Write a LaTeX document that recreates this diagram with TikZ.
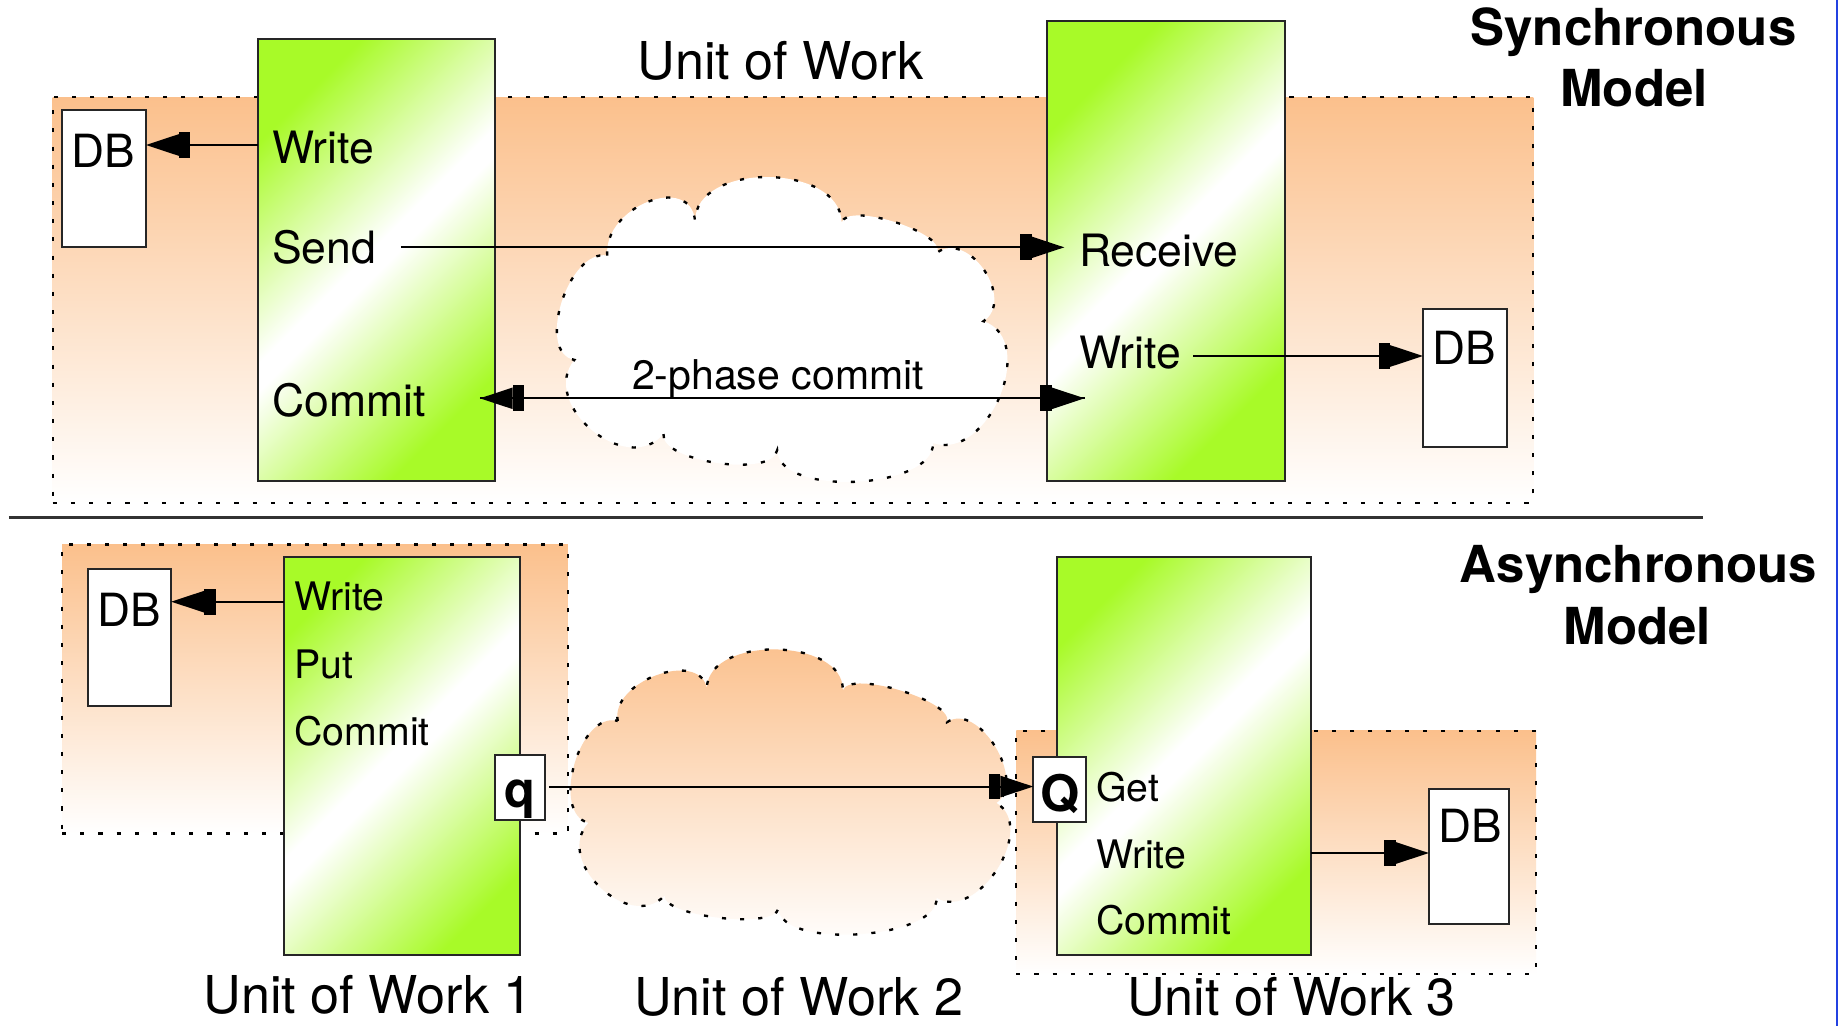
\documentclass[tikz,border=0pt]{standalone}
\usepackage{fontspec}
\setmainfont{TeX Gyre Heros}
\usetikzlibrary{arrows.meta,calc}
\definecolor{peach}{RGB}{251,192,140}
\definecolor{boxgreen}{RGB}{168,250,40}
\definecolor{edgeblue}{RGB}{35,65,225}
\definecolor{rule}{RGB}{50,50,50}
% green - white - green band used across the process boxes
\pgfdeclarehorizontalshading{gband}{100bp}{color(0bp)=(boxgreen); color(33bp)=(boxgreen);
  color(49bp)=(white); color(51bp)=(white); color(67bp)=(boxgreen); color(100bp)=(boxgreen)}

\begin{document}
\begin{tikzpicture}[x=1pt,y=-1pt,
  region/.style={draw=black, line width=2pt, dash pattern=on 3.5pt off 12pt,
    top color=peach, bottom color=white, inner sep=0pt, outer sep=0pt},
  cloudline/.style={draw=black, line width=2pt, dash pattern=on 3.5pt off 12pt},
  procbox/.style={draw=black!85, line width=1.7pt, inner sep=0pt, outer sep=0pt,
    path picture={\shade[shading=gband, shading angle=-45]
      ($(path picture bounding box.center)+(-210,-210)$) rectangle ++(420,420);}},
  dbbox/.style={draw=black!85, line width=1.7pt, fill=white, inner sep=0pt, outer sep=0pt},
  qbox/.style={draw=black!85, line width=1.7pt, fill=white, inner sep=0pt, outer sep=0pt},
  lab/.style={inner sep=0pt, anchor=base west, font=\fontsize{38}{45}\selectfont},
  slab/.style={inner sep=0pt, anchor=base west, font=\fontsize{33.5}{40}\selectfont},
  dblab/.style={inner sep=0pt, anchor=base west, font=\fontsize{39}{46}\selectfont},
  caption/.style={inner sep=0pt, anchor=base, font=\fontsize{44.5}{52}\selectfont},
  title/.style={inner sep=0pt, anchor=base, font=\fontsize{43.5}{52}\selectfont\bfseries},
  qlab/.style={inner sep=0pt, anchor=base, font=\fontsize{43}{50}\selectfont\bfseries},
  arr/.style={line width=1.7pt,
    -{Rectangle[length=10pt,width=22pt]Triangle[length=28pt,width=18pt]}}
]
\useasboundingbox (0,0) rectangle (1568,875);
\fill[white] (0,0) rectangle (1568,875);

% ---------------- synchronous model ----------------
\node[region, minimum width=1263pt, minimum height=346pt] (syncbg) at (676.5,256) {};

% network cloud
\path[fill=white, cloudline] (518,218)
  .. controls (514.7,176) and (589.7,147) .. (593,189)
  .. controls (592.3,137.7) and (717.3,138.7) .. (718,190)
  .. controls (722,172) and (804,197) .. (800,215)
  .. controls (827.3,197) and (866.3,256) .. (839,274)
  .. controls (886.3,290) and (843.3,394) .. (796,378)
  .. controls (796.7,418) and (663.7,424) .. (663,384)
  .. controls (659.7,408) and (562.7,394) .. (566,370)
  .. controls (535.3,408) and (459.3,345) .. (490,307)
  .. controls (456.7,301) and (484.7,212) .. (518,218) -- cycle;

\node[procbox, minimum width=202pt, minimum height=377pt] (snd) at (321,221.5) {};
\node[procbox, minimum width=203.6pt, minimum height=392.4pt] (rcv) at (994.8,213.8) {};
\node[dbbox, minimum width=71.5pt, minimum height=117pt] (db1) at (88.75,152.5) {};
\node[dbbox, minimum width=72pt, minimum height=117.5pt] (db2) at (1250,322.25) {};

\node[dblab] (db1t) at ($(db1.north west)+(8,49)$) {DB};
\node[dblab] (db2t) at ($(db2.north west)+(8,47.5)$) {DB};

\node[lab] (swrite) at (232,139.3) {Write};
\node[lab] (ssend) at (232,224.6) {Send};
\node[lab] (scommit) at (232,355.5) {Commit};
\node[lab] (rrecv) at (920.4,227.5) {Receive};
\node[lab] (rwrite) at (920.3,314.2) {Write};

\node[inner sep=0pt, anchor=base, font=\fontsize{35}{41}\selectfont] (tpc) at (663.7,332.7) {2-phase commit};
\node[caption] (uow) at (666,67.4) {Unit of Work};
\node[title] (synA) at (1393.5,39) {Synchronous};
\node[title] (synB) at (1394,91) {Model};

\coordinate (lvlw1) at (0,123.7);
\draw[arr] (snd.west |- lvlw1) -- (db1.east |- lvlw1);
\coordinate (sendout) at (342,211);
\coordinate (recvin) at (908,211);
\draw[arr] (sendout) -- (recvin);
\coordinate (commitl) at (409.4,339.8);
\coordinate (commitr) at (925.3,339.8);
\draw[arr] (commitl) -- (commitr);
\draw[arr] (commitr) -- (commitl);
\coordinate (w2out) at (1017.8,303.7);
\draw[arr] (w2out) -- (db2.west |- w2out);

% separator
\draw[rule, line width=2.2pt] (7.6,441.3) -- (1453,441.3);

% ---------------- asynchronous model ----------------
\node[region, minimum width=431.5pt, minimum height=246.5pt] (bgl) at (268.75,587.75) {};
\node[region, minimum width=443.4pt, minimum height=207.5pt] (bgr) at (1088.7,727.25) {};

\path[cloudline, top color=peach, bottom color=white] (527,615)
  .. controls (520.3,581.7) and (596.3,553.7) .. (603,587)
  .. controls (604.3,541.7) and (720.3,543.7) .. (719,589)
  .. controls (725,571) and (814,598) .. (808,616)
  .. controls (834.7,598) and (876.7,667) .. (850,685)
  .. controls (885.3,705.7) and (834.3,786.7) .. (799,766)
  .. controls (801,801.3) and (666,810.3) .. (664,775)
  .. controls (662,793) and (565,782) .. (567,764)
  .. controls (537,796) and (472,734) .. (502,702)
  .. controls (469.3,693.3) and (494.3,606.3) .. (527,615) -- cycle;

\node[procbox, minimum width=201.6pt, minimum height=339.2pt] (putbox) at (342.8,645.1) {};
\node[procbox, minimum width=216.4pt, minimum height=339.2pt] (getbox) at (1009.8,645.1) {};
\node[dbbox, minimum width=71pt, minimum height=116.6pt] (db3) at (110.5,544) {};
\node[dbbox, minimum width=68.5pt, minimum height=115.3pt] (db4) at (1253.25,730.35) {};
\node[qbox, minimum width=43.2pt, minimum height=55.2pt] (qbx) at (443.6,672.1) {};
\node[qbox, minimum width=45pt, minimum height=55.5pt] (Qbx) at (904,673.25) {};

\node[dblab] (db3t) at ($(db3.north west)+(8,49)$) {DB};
\node[dblab] (db4t) at ($(db4.north west)+(8,46)$) {DB};
\node[qlab] (qt) at (443.6,688.5) {q};
\node[qlab] (Qt) at (904,692.5) {Q};

\node[slab] (pwrite) at (251,520.4) {Write};
\node[slab] (pput) at (251,578.7) {Put};
\node[slab] (pcommit) at (251,635.6) {Commit};
\node[slab] (gget) at (935,684) {Get};
\node[slab] (gwrite) at (935,740.8) {Write};
\node[slab] (gcommit) at (935,797.6) {Commit};

\node[title] (asyA) at (1397.7,497.3) {Asynchronous};
\node[title] (asyB) at (1396.8,549.6) {Model};
\node[caption] (uow1) at (314.2,864.5) {Unit of Work 1};
\node[caption] (uow2) at (681.5,866) {Unit of Work 2};
\node[caption] (uow3) at (1101.8,866.5) {Unit of Work 3};

\coordinate (lvlw3) at (0,513.3);
\draw[arr] (putbox.west |- lvlw3) -- (db3.east |- lvlw3);
\coordinate (lvlq) at (0,671);
\draw[arr] ($(qbx.east |- lvlq)+(3,0)$) -- (Qbx.west |- lvlq);
\coordinate (lvldb4) at (0,727.7);
\draw[arr] (getbox.east |- lvldb4) -- (db4.west |- lvldb4);

% window edge
\draw[edgeblue, line width=1.8pt] (1566.8,0) -- (1566.8,875);
\end{tikzpicture}
\end{document}
